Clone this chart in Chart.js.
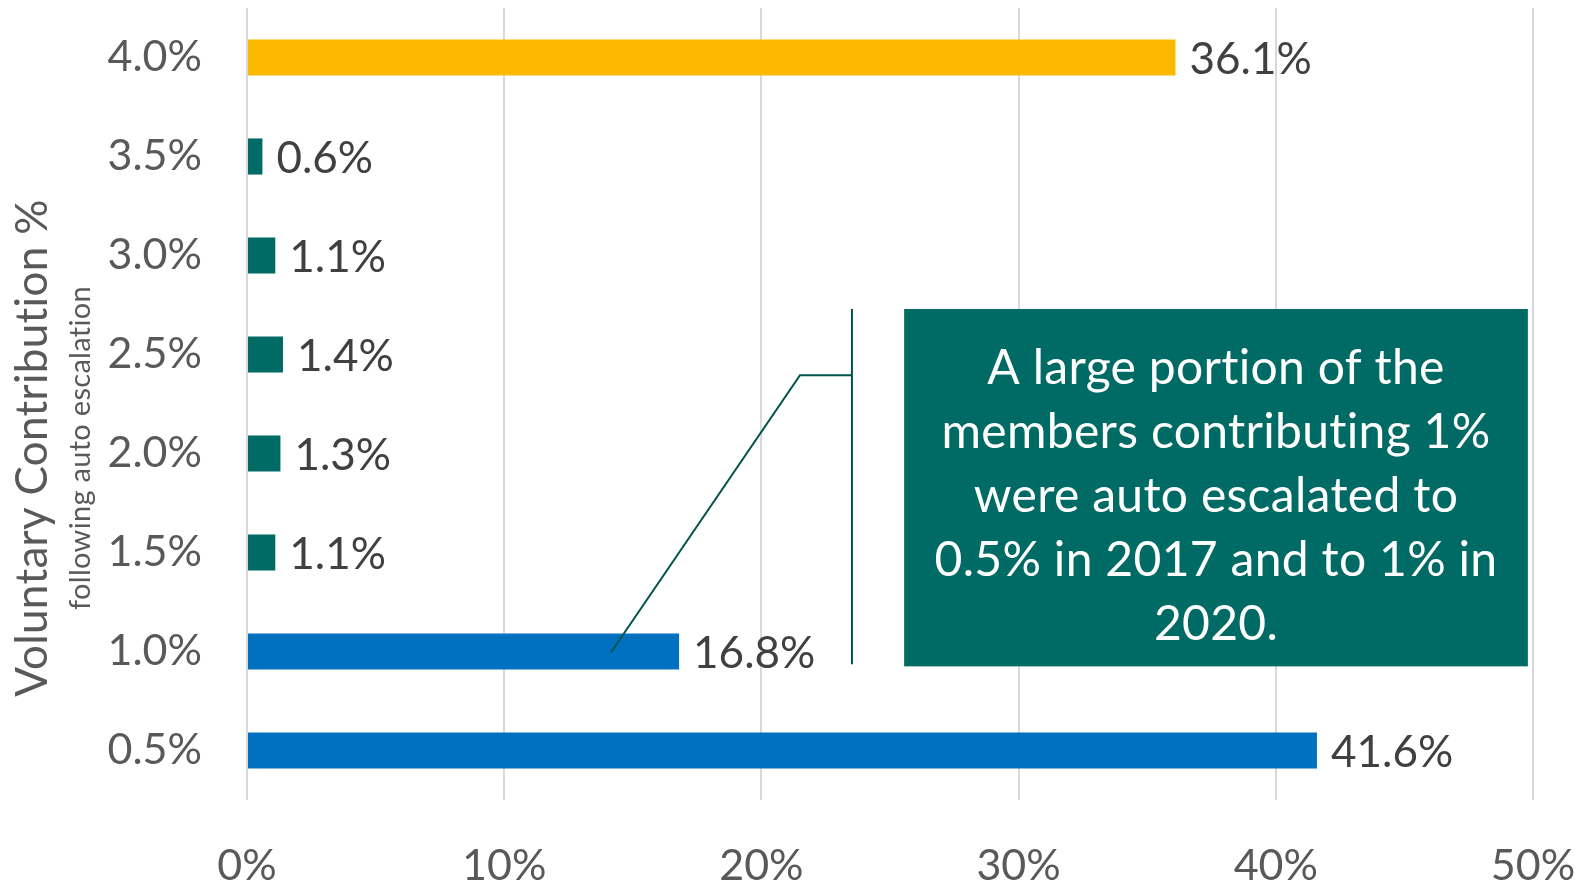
<!DOCTYPE html>
<html>
<head>
<meta charset="utf-8">
<script src="https://cdn.jsdelivr.net/npm/chart.js@4"></script>
<style>
  html, body { margin: 0; padding: 0; background: #fff; }
  #wrap { width: 1581px; height: 881px; }
</style>
</head>
<body>
<div id="wrap"><canvas id="contribChart" width="1581" height="881"></canvas></div>
<script>
// data, top category first (chart draws index 0 at top)
const rates = ['4.0%', '3.5%', '3.0%', '2.5%', '2.0%', '1.5%', '1.0%', '0.5%'];
const shares = [36.1, 0.6, 1.1, 1.4, 1.3, 1.1, 16.8, 41.6];
const xTicks = [0, 10, 20, 30, 40, 50];

const barColors = ['#FBB900', '#006A64', '#006A64', '#006A64', '#006A64', '#006A64', '#0070C0', '#0070C0'];
const fontFam = 'Lato, "Open Sans", sans-serif';

const noteLines = [
  'A large portion of the',
  'members contributing 1%',
  'were auto escalated to',
  '0.5% in 2017 and to 1% in',
  '2020.'
];

// no "ti" ligatures, the original font has none
function plainText(ctx) {
  if ('textRendering' in ctx) ctx.textRendering = 'optimizeSpeed';
  if ('letterSpacing' in ctx) ctx.letterSpacing = '0.3px';
}

// value labels at the end of each bar
const barLabels = {
  id: 'barLabels',
  afterDatasetsDraw(chart) {
    const ctx = chart.ctx;
    const meta = chart.getDatasetMeta(0);
    ctx.save();
    ctx.font = '44px ' + fontFam;
    ctx.fillStyle = '#404040';
    ctx.textAlign = 'left';
    ctx.textBaseline = 'middle';
    meta.data.forEach((bar, i) => {
      ctx.fillText(shares[i].toFixed(1) + '%', bar.x + 14, bar.y + 2);
    });
    ctx.restore();
  }
};

// rotated axis title with its small subtitle
const yTitle = {
  id: 'yTitle',
  afterDraw(chart) {
    const ctx = chart.ctx;
    const cy = (chart.chartArea.top + chart.chartArea.bottom) / 2 + 44;
    ctx.save();
    plainText(ctx);
    ctx.translate(47, cy);
    ctx.rotate(-Math.PI / 2);
    ctx.textAlign = 'center';
    ctx.textBaseline = 'alphabetic';
    ctx.fillStyle = '#595959';
    ctx.font = '44px ' + fontFam;
    ctx.fillText('Voluntary Contribution %', 0, 0);
    ctx.restore();

    ctx.save();
    plainText(ctx);
    ctx.translate(90, cy);
    ctx.rotate(-Math.PI / 2);
    ctx.textAlign = 'center';
    ctx.fillStyle = '#595959';
    ctx.font = '29px ' + fontFam;
    ctx.fillText('following auto escalation', 0, 0);
    ctx.restore();
  }
};

// callout box + leader line, placed in axis units
const callout = {
  id: 'callout',
  afterDraw(chart) {
    const ctx = chart.ctx;
    const xs = chart.scales.x, ys = chart.scales.y;
    const px = v => xs.getPixelForValue(v);
    const py = v => ys.getPixelForValue(v);

    const left = px(25.55), right = px(49.8);
    const top = py(2.54), bottom = py(6.15);

    ctx.save();
    ctx.strokeStyle = '#00524C';
    ctx.lineWidth = 2;
    ctx.beginPath();
    ctx.moveTo(px(14.15), py(6.01));
    ctx.lineTo(px(21.5), py(3.21));
    ctx.lineTo(px(23.52), py(3.21));
    ctx.stroke();
    ctx.beginPath();
    ctx.moveTo(px(23.52), py(2.54));
    ctx.lineTo(px(23.52), py(6.13));
    ctx.stroke();

    ctx.fillStyle = '#006A64';
    ctx.fillRect(left, top, right - left, bottom - top);

    plainText(ctx);
    ctx.fillStyle = '#ffffff';
    ctx.font = '48px ' + fontFam;
    ctx.textAlign = 'center';
    ctx.textBaseline = 'middle';
    const cx = (left + right) / 2;
    const mid = (top + bottom) / 2 + 9;
    noteLines.forEach((t, i) => {
      ctx.fillText(t, cx, mid + (i - 2) * 64);
    });
    ctx.restore();
  }
};

const ctx = document.getElementById('contribChart').getContext('2d');
new Chart(ctx, {
  type: 'bar',
  data: {
    labels: rates,
    datasets: [{
      data: shares,
      backgroundColor: barColors,
      barPercentage: 0.365,
      categoryPercentage: 1
    }]
  },
  options: {
    indexAxis: 'y',
    responsive: false,
    animation: false,
    layout: { padding: { top: 8, right: 48, left: 0, bottom: 0 } },
    plugins: {
      legend: { display: false },
      tooltip: { enabled: false }
    },
    scales: {
      x: {
        min: 0,
        max: 50,
        afterBuildTicks: scale => { scale.ticks = xTicks.map(v => ({ value: v })); },
        afterFit: scale => {
          scale.height = 81;
          scale.paddingLeft = 0;
          scale.paddingRight = 0;
        },
        grid: { color: '#D9D9D9', lineWidth: 2, drawTicks: false },
        border: { display: false },
        ticks: {
          padding: 40,
          maxRotation: 0,
          color: '#595959',
          font: { family: fontFam, size: 43 },
          callback: v => v + '%'
        }
      },
      y: {
        afterFit: scale => {
          scale.width = 247;
          scale.paddingTop = 0;
          scale.paddingBottom = 0;
        },
        grid: { display: false, drawTicks: false },
        border: { display: false },
        ticks: {
          padding: 45,
          color: '#595959',
          font: { family: fontFam, size: 43 }
        }
      }
    }
  },
  plugins: [barLabels, yTitle, callout]
});
</script>
</body>
</html>
